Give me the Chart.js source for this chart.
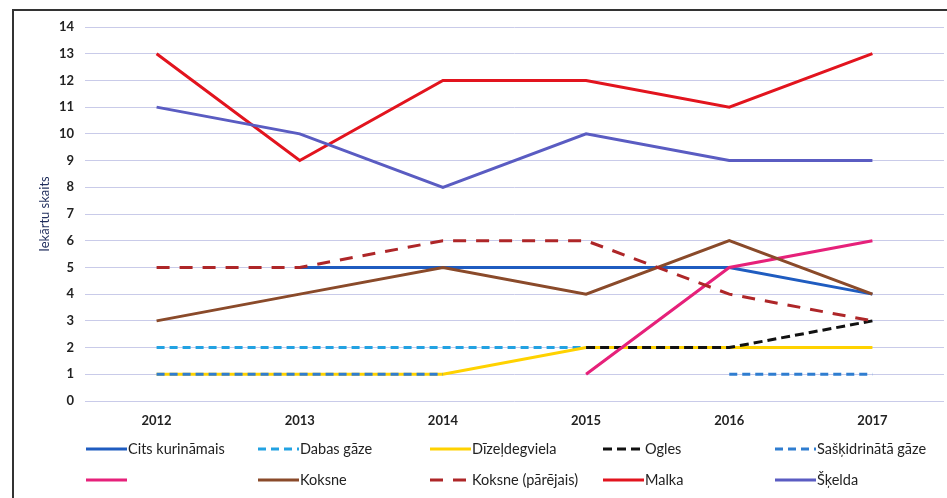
<!DOCTYPE html>
<html>
<head>
<meta charset="utf-8">
<script src="https://cdn.jsdelivr.net/npm/chart.js@4/dist/chart.umd.min.js"></script>
<style>
  html, body { margin: 0; padding: 0; background: #fff; }
  #wrap { position: relative; width: 947px; height: 498px; overflow: hidden; }
  #frame {
    position: absolute; left: 12px; top: 9px; right: -4px; bottom: -4px;
    border-left: 2px solid #333; border-top: 2px solid #333;
    pointer-events: none;
  }
</style>
</head>
<body>
<div id="wrap">
  <canvas id="chart" width="947" height="498"></canvas>
  <div id="frame"></div>
</div>
<script>
const years = ['2012', '2013', '2014', '2015', '2016', '2017']

// one array per fuel type, null where there is no value for that year
const citsKurinamais = [null, 5, 5, 5, 5, 4]
const dabasGaze = [2, 2, 2, 2, null, null]
const dizeldegviela = [1, 1, 1, 2, 2, 2]
const ogles = [null, null, null, 2, 2, 3]
const saskidrinataGaze = [1, 1, 1, null, 1, 1]
const bezNosaukuma = [null, null, null, 1, 5, 6]
const koksne = [3, 4, 5, 4, 6, 4]
const koksneParejais = [5, 5, 6, 6, 4, 3]
const malka = [13, 9, 12, 12, 11, 13]
const skelda = [11, 10, 8, 10, 9, 9]

const seriesLabels = [
  'Cits kurināmais', 'Dabas gāze', 'Dīzeļdegviela', 'Ogles', 'Sašķidrinātā gāze',
  '', 'Koksne', 'Koksne (pārējais)', 'Malka', 'Šķelda'
]
const seriesData = [
  citsKurinamais, dabasGaze, dizeldegviela, ogles, saskidrinataGaze,
  bezNosaukuma, koksne, koksneParejais, malka, skelda
]
const seriesColors = [
  '#1f5cc0', '#22a2e2', '#ffd200', '#111111', '#2f7dd0',
  '#e6217a', '#8a4a2a', '#ae2628', '#e2141e', '#5a5cc2'
]
const seriesDash = [
  [], [8, 5], [], [9, 5], [8, 5],
  [], [], [13, 10], [], []
]

// legend grid: 5 columns, 2 rows under the plot
const legendTextX = [128, 300, 472, 645, 817]
const legendRowY = [449, 480]

const gridLegend = {
  id: 'gridLegend',
  afterDraw(chart) {
    const ctx = chart.ctx
    chart.data.datasets.forEach((ds, i) => {
      const tx = legendTextX[i % 5]
      const y = legendRowY[Math.floor(i / 5)]
      ctx.save()
      ctx.strokeStyle = ds.borderColor
      ctx.lineWidth = 3
      ctx.setLineDash(ds.borderDash)
      ctx.beginPath()
      ctx.moveTo(tx - 42, y)
      ctx.lineTo(tx - 1, y)
      ctx.stroke()
      ctx.setLineDash([])
      ctx.fillStyle = '#222'
      ctx.font = '14.5px Lato'
      ctx.textBaseline = 'middle'
      ctx.fillText(ds.label, tx, y)
      ctx.restore()
    })
  }
}

const datasets = seriesData.map((values, i) => ({
  label: seriesLabels[i],
  data: values,
  borderColor: seriesColors[i],
  backgroundColor: seriesColors[i],
  borderDash: seriesDash[i],
  borderWidth: 3,
  pointRadius: 0,
  tension: 0,
  spanGaps: false,
  fill: false,
  // later series sit on top of earlier ones
  order: seriesData.length - i
}))

const chart = new Chart('chart', {
  type: 'line',
  data: { labels: years, datasets },
  options: {
    responsive: false,
    animation: false,
    layout: { padding: { top: 27, right: 3, bottom: 62, left: 0 } },
    plugins: {
      legend: { display: false },
      tooltip: { enabled: false }
    },
    scales: {
      x: {
        offset: true,
        grid: { display: false, drawTicks: false },
        border: { display: false },
        ticks: {
          padding: 12,
          color: '#222',
          font: { family: 'Lato', size: 13, weight: 'bold' }
        },
        afterFit(scale) { scale.height = 35 }
      },
      y: {
        min: 0,
        max: 14,
        grid: { color: '#c9cbe9', lineWidth: 1, drawTicks: false },
        border: { display: false },
        ticks: {
          stepSize: 1,
          padding: 11,
          color: '#222',
          font: { family: 'Lato', size: 13, weight: 'bold' }
        },
        title: {
          display: true,
          text: 'Iekārtu skaits',
          color: '#1f2d5c',
          padding: { top: 37, bottom: 0 },
          font: { family: 'Lato', size: 13 }
        },
        afterFit(scale) { scale.width = 85 }
      }
    }
  },
  plugins: [gridLegend]
})
</script>
</body>
</html>
